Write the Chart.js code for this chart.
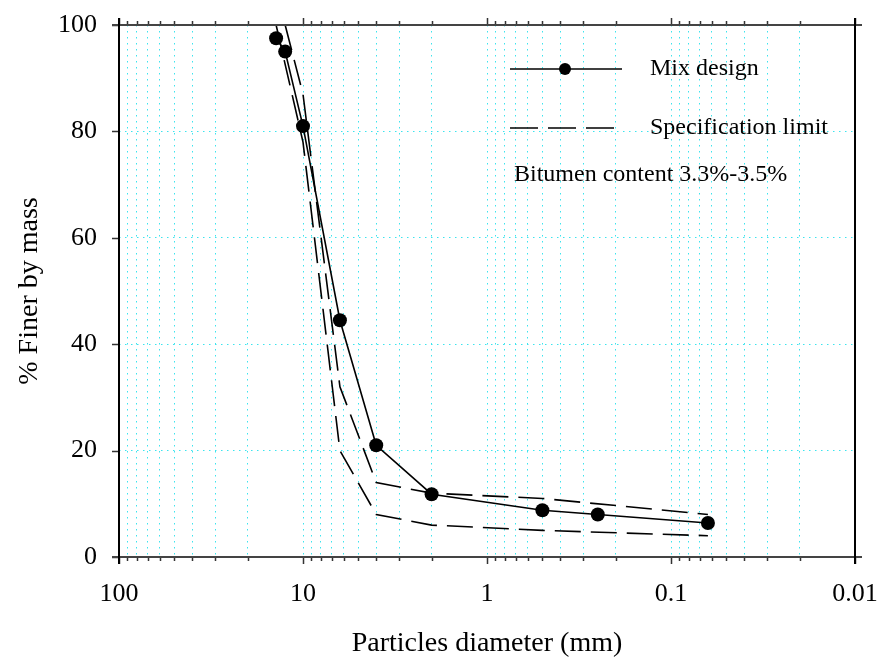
<!DOCTYPE html>
<html>
<head>
<meta charset="utf-8">
<title>Grading curve</title>
<script src="https://cdn.jsdelivr.net/npm/chart.js@4.4.0/dist/chart.umd.min.js"></script>
<style>
  body { margin: 0; background: #fff; }
</style>
</head>
<body>
<canvas id="grading" width="879" height="658"></canvas>
<script>
// sieve sizes (mm) and % passing
var mixSizes = [14, 12.5, 10, 6.3, 4, 2, 0.5, 0.25, 0.063];
var mixPassing = [97.5, 95, 81, 44.5, 21, 11.8, 8.8, 8.0, 6.4];

var upperSizes = [12.5, 10, 6.3, 4, 2, 0.5, 0.063];
var upperPassing = [100, 87, 32, 14, 12, 11, 8];

var lowerSizes = [14, 10, 6.3, 4, 2, 0.5, 0.063];
var lowerPassing = [100, 78, 20, 8, 6, 5, 4];

var xTickLabels = ['100', '10', '1', '0.1', '0.01'];
var yTickLabels = ['0', '20', '40', '60', '80', '100'];

var FONT = "'Liberation Serif', 'Times New Roman', serif";
var GRID = 'rgb(60,228,238)';

function toPoints(xs, ys) {
  return xs.map(function (x, i) { return { x: x, y: ys[i] }; });
}

function isDecade(v) {
  var l = Math.log10(v);
  return Math.abs(l - Math.round(l)) < 1e-6;
}

// 1..9 x each decade between the labelled ends
function xTickValues() {
  var decs = xTickLabels.map(parseFloat).sort(function (a, b) { return a - b; });
  var vals = [];
  for (var i = 0; i < decs.length - 1; i++) {
    for (var k = 1; k <= 9; k++) vals.push(decs[i] * k);
  }
  vals.push(decs[decs.length - 1]);
  return vals;
}

// ticks, frame and the in-plot legend
var framePlugin = {
  id: 'frame',
  afterDraw: function (chart) {
    var ctx = chart.ctx;
    var ca = chart.chartArea;
    var xs = chart.scales.x, ys = chart.scales.y;
    ctx.save();

    // x ticks, bottom (down) and top (up)
    ctx.strokeStyle = '#333';
    ctx.lineWidth = 1.5;
    xTickValues().forEach(function (v) {
      var px = Math.round(xs.getPixelForValue(v)) + 0.5;
      var len = isDecade(v) ? 7 : 4;
      ctx.beginPath();
      ctx.moveTo(px, ca.bottom); ctx.lineTo(px, ca.bottom + len);
      ctx.moveTo(px, ca.top); ctx.lineTo(px, ca.top - len);
      ctx.stroke();
    });
    // y ticks, left
    yTickLabels.forEach(function (lbl) {
      var py = Math.round(ys.getPixelForValue(parseFloat(lbl))) + 0.5;
      ctx.beginPath();
      ctx.moveTo(ca.left, py); ctx.lineTo(ca.left - 7, py);
      ctx.stroke();
    });

    // frame
    ctx.strokeStyle = '#444';
    ctx.lineWidth = 2;
    ctx.beginPath();
    ctx.moveTo(ca.left - 7, ca.top); ctx.lineTo(ca.right + 7, ca.top);
    ctx.moveTo(ca.left - 7, ca.bottom); ctx.lineTo(ca.right + 7, ca.bottom);
    ctx.stroke();
    ctx.strokeStyle = '#000';
    ctx.beginPath();
    ctx.moveTo(ca.left, ca.top - 7); ctx.lineTo(ca.left, ca.bottom + 7);
    ctx.moveTo(ca.right, ca.top - 7); ctx.lineTo(ca.right, ca.bottom + 7);
    ctx.stroke();

    // legend
    var lx = ca.left + 391;
    ctx.lineWidth = 1.5;
    ctx.beginPath();
    ctx.moveTo(lx, 69); ctx.lineTo(lx + 112, 69);
    ctx.stroke();
    ctx.fillStyle = '#000';
    ctx.beginPath();
    ctx.arc(lx + 55, 69, 6, 0, Math.PI * 2);
    ctx.fill();
    ctx.setLineDash([28, 10]);
    ctx.beginPath();
    ctx.moveTo(lx, 128); ctx.lineTo(lx + 104, 128);
    ctx.stroke();
    ctx.setLineDash([]);

    ctx.font = '24px ' + FONT;
    ctx.textBaseline = 'middle';
    ctx.textAlign = 'left';
    ctx.fillText(chart.data.datasets[0].label, lx + 140, 69);
    ctx.fillText(chart.data.datasets[1].label, lx + 140, 128);
    ctx.fillText('Bitumen content 3.3%-3.5%', lx + 4, 175);
    ctx.restore();
  }
};

new Chart(document.getElementById('grading'), {
  type: 'line',
  data: {
    datasets: [{
      label: 'Mix design',
      data: toPoints(mixSizes, mixPassing),
      borderColor: '#000',
      borderWidth: 1.6,
      backgroundColor: '#000',
      pointRadius: 7,
      pointBackgroundColor: '#000',
      pointBorderWidth: 0,
      tension: 0
    }, {
      label: 'Specification limit',
      data: toPoints(upperSizes, upperPassing),
      borderColor: '#000',
      borderWidth: 1.6,
      borderDash: [26, 10],
      pointRadius: 0,
      tension: 0
    }, {
      label: 'Specification limit (lower)',
      data: toPoints(lowerSizes, lowerPassing),
      borderColor: '#000',
      borderWidth: 1.6,
      borderDash: [26, 10],
      pointRadius: 0,
      tension: 0
    }]
  },
  options: {
    responsive: false,
    animation: false,
    layout: { padding: { top: 25, right: 24, left: 0, bottom: 0 } },
    plugins: {
      legend: { display: false },
      tooltip: { enabled: false }
    },
    scales: {
      x: {
        type: 'logarithmic',
        reverse: true,
        min: 0.01,
        max: 100,
        afterBuildTicks: function (scale) {
          scale.ticks = xTickValues().map(function (v) { return { value: v }; });
        },
        afterFit: function (scale) { scale.height = 101; },
        border: { display: false, dash: [1.5, 4.5] },
        grid: {
          drawTicks: true,
          tickLength: 22,
          tickColor: 'rgba(0,0,0,0)',
          lineWidth: 1,
          color: function (c) {
            var v = c.tick ? c.tick.value : 0;
            return (Math.abs(v - 100) < 1e-6 || Math.abs(v - 0.01) < 1e-9) ? 'rgba(0,0,0,0)' : GRID;
          }
        },
        ticks: {
          autoSkip: false,
          maxRotation: 0,
          padding: 0,
          color: '#000',
          font: { family: FONT, size: 26 },
          callback: function (value) {
            for (var i = 0; i < xTickLabels.length; i++) {
              var d = parseFloat(xTickLabels[i]);
              if (Math.abs(value - d) < d * 1e-6) return xTickLabels[i];
            }
            return '';
          }
        },
        title: {
          display: true,
          text: 'Particles diameter (mm)',
          color: '#000',
          font: { family: FONT, size: 28, lineHeight: 1 },
          padding: { top: 0, bottom: 0 }
        }
      },
      y: {
        min: 0,
        max: 100,
        afterBuildTicks: function (scale) {
          scale.ticks = yTickLabels.map(function (v) { return { value: parseFloat(v) }; });
        },
        afterFit: function (scale) { scale.width = 119; },
        border: { display: false, dash: [1.5, 4.5] },
        grid: {
          drawTicks: true,
          tickLength: 22,
          tickColor: 'rgba(0,0,0,0)',
          lineWidth: 1,
          color: function (c) {
            var v = c.tick ? c.tick.value : 0;
            return (v === 0 || v === 100) ? 'rgba(0,0,0,0)' : GRID;
          }
        },
        ticks: {
          padding: 0,
          color: '#000',
          font: { family: FONT, size: 26 },
          callback: function (value, index) { return yTickLabels[index]; }
        },
        title: {
          display: true,
          text: '% Finer by mass',
          color: '#000',
          font: { family: FONT, size: 28, lineHeight: 1.2 },
          padding: { top: 13, bottom: 0 }
        }
      }
    }
  },
  plugins: [framePlugin]
});
</script>
</body>
</html>
